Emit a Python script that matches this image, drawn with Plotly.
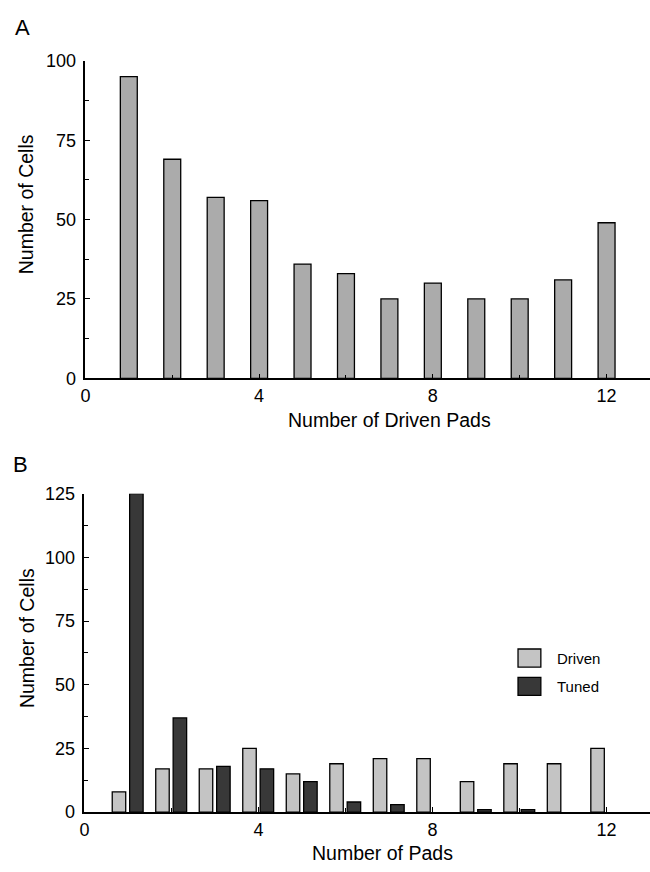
import plotly.graph_objects as go

W, H = 650, 872

# ---------------- data ----------------
pads = [1, 2, 3, 4, 5, 6, 7, 8, 9, 10, 11, 12]
driven_pads_cells = [95, 69, 57, 56, 36, 33, 25, 30, 25, 25, 31, 49]   # panel A
driven_cells = [8, 17, 17, 25, 15, 19, 21, 21, 12, 19, 19, 25]         # panel B, Driven
tuned_cells = [125, 37, 18, 17, 12, 4, 3, 0, 1, 1, 0, 0]               # panel B, Tuned

x_tickvals = [0, 4, 8, 12]
yA_tickvals = [0, 25, 50, 75, 100]
yB_tickvals = [0, 25, 50, 75, 100, 125]

FONT = "Liberation Sans, Arial, Helvetica, sans-serif"
LIGHT_A = "#ababab"
LIGHT_B = "#c4c4c4"
DARK = "#383838"


def px(x):
    return x / W


def py(y):
    return 1 - y / H


fig = go.Figure()

fig.add_trace(go.Bar(x=pads, y=driven_pads_cells, width=0.39,
                     marker=dict(color=LIGHT_A, line=dict(color="black", width=1.3)),
                     xaxis="x", yaxis="y", showlegend=False, name="Driven"))
fig.add_trace(go.Bar(x=pads, y=driven_cells, width=0.31, offset=-0.36,
                     marker=dict(color=LIGHT_B, line=dict(color="black", width=1.3)),
                     xaxis="x2", yaxis="y2", showlegend=False, name="Driven"))
fig.add_trace(go.Bar(x=pads, y=tuned_cells, width=0.31, offset=0.04,
                     marker=dict(color=DARK,
                                 line=dict(color="black",
                                           width=[1.3 if v > 0 else 0 for v in tuned_cells])),
                     xaxis="x2", yaxis="y2", showlegend=False, name="Tuned"))

axis_common = dict(showline=True, linecolor="black", linewidth=1.5,
                   showgrid=False, zeroline=False, ticks="inside",
                   tickcolor="black", tickwidth=1.3, ticklen=5,
                   tickfont=dict(family=FONT, size=18, color="black"))

xcommon = dict(axis_common, range=[0, 13], tickmode="array", tickvals=x_tickvals,
               minor=dict(dtick=2, tick0=0, ticks="inside", ticklen=4,
                          tickcolor="black", tickwidth=1.2))

fig.update_layout(
    width=W, height=H,
    margin=dict(l=0, r=0, t=0, b=0),
    paper_bgcolor="white", plot_bgcolor="white",
    barmode="overlay",
    font=dict(family=FONT, color="black"),
    xaxis=dict(xcommon, domain=[px(81), 1], anchor="y"),
    yaxis=dict(axis_common, domain=[py(377), py(52)], range=[0, 100], anchor="x",
               tickmode="array", tickvals=yA_tickvals, ticklabelstandoff=4,
               minor=dict(dtick=12.5, tick0=0, ticks="inside", ticklen=4,
                          tickcolor="black", tickwidth=1.2)),
    xaxis2=dict(xcommon, domain=[px(80), 1], anchor="y2"),
    yaxis2=dict(axis_common, domain=[py(821), py(495)], range=[0, 125], anchor="x2",
                tickmode="array", tickvals=yB_tickvals, ticklabelstandoff=4,
                minor=dict(dtick=12.5, tick0=0, ticks="inside", ticklen=4,
                           tickcolor="black", tickwidth=1.2)),
)

ann = []


def text(t, x, y, size, xanchor="center", yanchor="middle", angle=0):
    ann.append(dict(text=t, x=px(x), y=py(y), xref="paper", yref="paper",
                    xanchor=xanchor, yanchor=yanchor, showarrow=False, textangle=angle,
                    font=dict(family=FONT, size=size, color="black")))


text("A", 8, 18, 22, xanchor="left")
text("B", 6, 465, 22, xanchor="left")
text("Number of Driven Pads", 387, 420, 19.5)
text("Number of Cells", 22, 199, 19.5, angle=-90)
text("Number of Pads", 380, 863, 19.5)
text("Number of Cells", 22, 643, 19.5, angle=-90)
text("Driven", 554, 663.5, 15, xanchor="left")
text("Tuned", 554, 692.5, 15, xanchor="left")

shapes = [
    dict(type="rect", xref="paper", yref="paper", x0=px(517), x1=px(540),
         y0=py(672.5), y1=py(654), fillcolor=LIGHT_B, line=dict(color="black", width=1.3)),
    dict(type="rect", xref="paper", yref="paper", x0=px(517), x1=px(540),
         y0=py(701.5), y1=py(683), fillcolor=DARK, line=dict(color="black", width=1.3)),
]

fig.update_layout(annotations=ann, shapes=shapes)

fig.write_html("out.html")
